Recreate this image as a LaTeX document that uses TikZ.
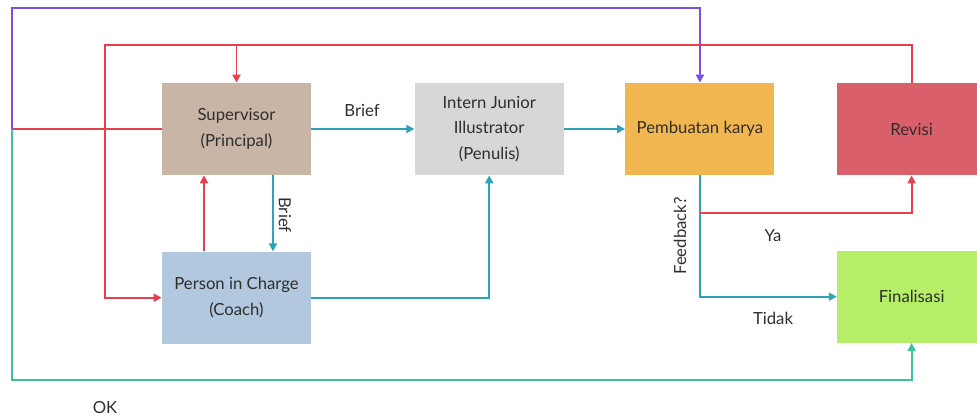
\documentclass[tikz,border=0pt]{standalone}
\usepackage{fontspec}
\setmainfont{Lato}
\usetikzlibrary{positioning, arrows.meta}

\definecolor{supfill}{HTML}{C9B5A6}
\definecolor{internfill}{HTML}{D7D7D7}
\definecolor{karyafill}{HTML}{F2B651}
\definecolor{revisifill}{HTML}{D9606A}
\definecolor{picfill}{HTML}{B1C8DF}
\definecolor{finalfill}{HTML}{B6EE68}
\definecolor{redline}{HTML}{E6404F}
\definecolor{tealline}{HTML}{30A2B6}
\definecolor{purpleline}{HTML}{7A4FEA}
\definecolor{greenline}{HTML}{3DC39B}
\definecolor{labelgray}{HTML}{2E2E2E}

\begin{document}
\begin{tikzpicture}
    % Styles
    \tikzset{
        block/.style={rectangle, minimum width=2.98cm, minimum height=1.84cm, align=center, text=labelgray, font=\fontsize{9.5}{14.5}\selectfont},
        flow/.style={line width=1.1pt, -{Triangle[length=4.5pt, width=4.5pt]}},
        plain/.style={line width=1.1pt},
        label_text/.style={text=labelgray, font=\fontsize{9.5}{11}\selectfont}
    }

    \useasboundingbox (0,0) rectangle (19.54,-8.38);

    % --- Nodes ---

    % Top row
    \node[block, fill=supfill] (sup) at (4.73,-2.58) {Supervisor\\(Principal)};
    \node[block, fill=internfill, right=2.06cm of sup] (intern) {Intern Junior\\Illustrator\\(Penulis)};
    \node[block, fill=karyafill, right=1.22cm of intern] (karya) {Pembuatan karya};
    \node[block, fill=revisifill, right=1.24cm of karya] (revisi) {Revisi};

    % Bottom row
    \node[block, fill=picfill, below=1.52cm of sup] (pic) {Person in Charge\\(Coach)};
    \node[block, fill=finalfill, below=1.5cm of revisi] (final) {Finalisasi};

    % Corner points of the outer loops
    \coordinate (split) at (0.24,-2.58);
    \coordinate (ptop) at (0.24,-0.16);
    \coordinate (gbot) at (0.24,-7.6);
    \coordinate (rleft) at (2.1,-0.9);

    % --- Connections ---

    % Outer loops
    \draw[plain, redline] (sup.west) -- (split);
    \draw[flow, purpleline] (split) -- (ptop) -| (karya.north);
    \draw[flow, greenline] (split) -- (gbot) -| (final.south);
    \draw[flow, redline] (revisi.north) |- (rleft) |- (pic.west);
    \draw[flow, redline] (sup.north |- rleft) -- (sup.north);

    % Supervisor and coach
    \draw[flow, tealline] (sup.east) -- (intern.west);
    \draw[flow, tealline] ([xshift=0.73cm]sup.south) -- ([xshift=0.73cm]pic.north);
    \draw[flow, redline] ([xshift=-0.65cm]pic.north) -- ([xshift=-0.65cm]sup.south);
    \draw[flow, tealline] (pic.east) -| (intern.south);

    % Work and feedback
    \draw[flow, tealline] (intern.east) -- (karya.west);
    \draw[flow, tealline] (karya.south) |- (final.west);
    \draw[flow, redline] ([yshift=-0.76cm]karya.south) -| (revisi.south);

    % Labels
    \node[label_text] (brief_top) at (7.24,-2.2) {Brief};
    \node[label_text, rotate=-90] (brief_side) at (5.7,-4.3) {Brief};
    \node[label_text, rotate=90] (feedback) at (13.6,-4.72) {Feedback?};
    \node[label_text] (ya) at (15.46,-4.72) {Ya};
    \node[label_text] (tidak) at (15.46,-6.36) {Tidak};
    \node[label_text] (ok) at (2.1,-8.16) {OK};

\end{tikzpicture}
\end{document}
